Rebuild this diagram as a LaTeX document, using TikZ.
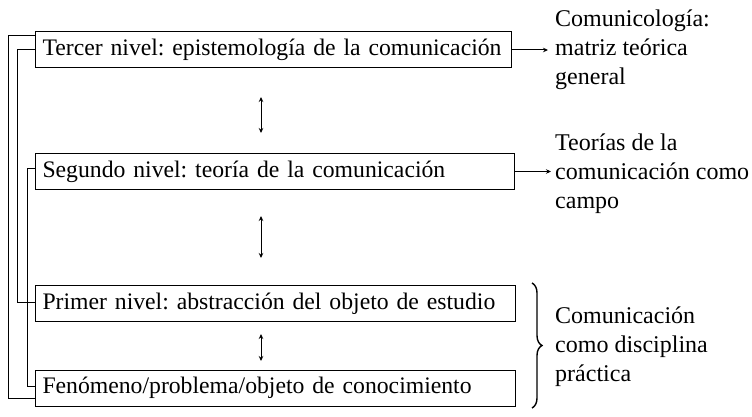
\documentclass[tikz,border=0pt]{standalone}
\usepackage{fontspec}
\setmainfont{Liberation Serif}
\usetikzlibrary{arrows.meta,decorations.pathreplacing}
\frenchspacing
\begin{document}
\begin{tikzpicture}[x=1pt,y=-1pt,
  txt/.style={font=\fontsize{24}{29}\selectfont},
  box/.style={font=\fontsize{23.7}{28}\selectfont, draw, line width=1pt, anchor=west, minimum height=36pt, inner xsep=7pt, inner ysep=0pt, align=left},
  lbl/.style={txt, anchor=west, align=left, inner sep=0pt},
  conn/.style={line width=1pt},
  arr/.style={line width=1pt, -{Stealth[length=5pt,width=4.5pt]}},
  darr/.style={line width=1pt, {Stealth[length=5pt,width=4.5pt]}-{Stealth[length=5pt,width=4.5pt]}}]
\useasboundingbox (0,0) rectangle (752,417);
% boxes
\node[box, text width=462pt] (b1) at (35,50) {\mbox{Tercer nivel: epistemología de la comunicación}};
\node[box, text width=465pt] (b2) at (35,171.5) {\mbox{Segundo nivel: teoría de la comunicación}};
\node[box, text width=466pt] (b3) at (35,303.5) {\mbox{Primer nivel: abstracción del objeto de estudio}};
\node[box, text width=466pt] (b4) at (35,388) {\mbox{Fenómeno/problema/objeto de conocimiento}};
% right labels
\node[lbl] (l1) at (555,50) {Comunicología:\\matriz teórica\\general};
\node[lbl] (l2) at (555,174) {Teorías de la\\comunicación como\\campo};
\node[lbl] (l3) at (555,347) {Comunicación\\como disciplina\\práctica};
% horizontal arrows
\coordinate (a1) at (548,50);
\coordinate (a2) at (551,171.5);
\draw[arr] (b1.east) -- (a1);
\draw[arr] (b2.east) -- (a2);
% vertical double arrows
\coordinate (v1a) at (261,97);  \coordinate (v1b) at (261,133);
\coordinate (v2a) at (261,216); \coordinate (v2b) at (261,258);
\coordinate (v3a) at (261,334); \coordinate (v3b) at (261,361);
\draw[darr] (v1a) -- (v1b);
\draw[darr] (v2a) -- (v2b);
\draw[darr] (v3a) -- (v3b);
% left connectors
\draw[conn] ([yshift=14pt]b1.west) -- ++(-27,0) |- ([yshift=-10pt]b4.west);
\draw[conn] (b1.west) -- ++(-18,0) |- ([yshift=1pt]b3.west);
\draw[conn] ([yshift=3.5pt]b2.west) -- ++(-8,0) |- ([yshift=2pt]b4.west);
% brace
\draw[line width=1.4pt, decorate, decoration={brace, amplitude=10pt}] (532,283) -- (532,408);
\end{tikzpicture}
\end{document}
